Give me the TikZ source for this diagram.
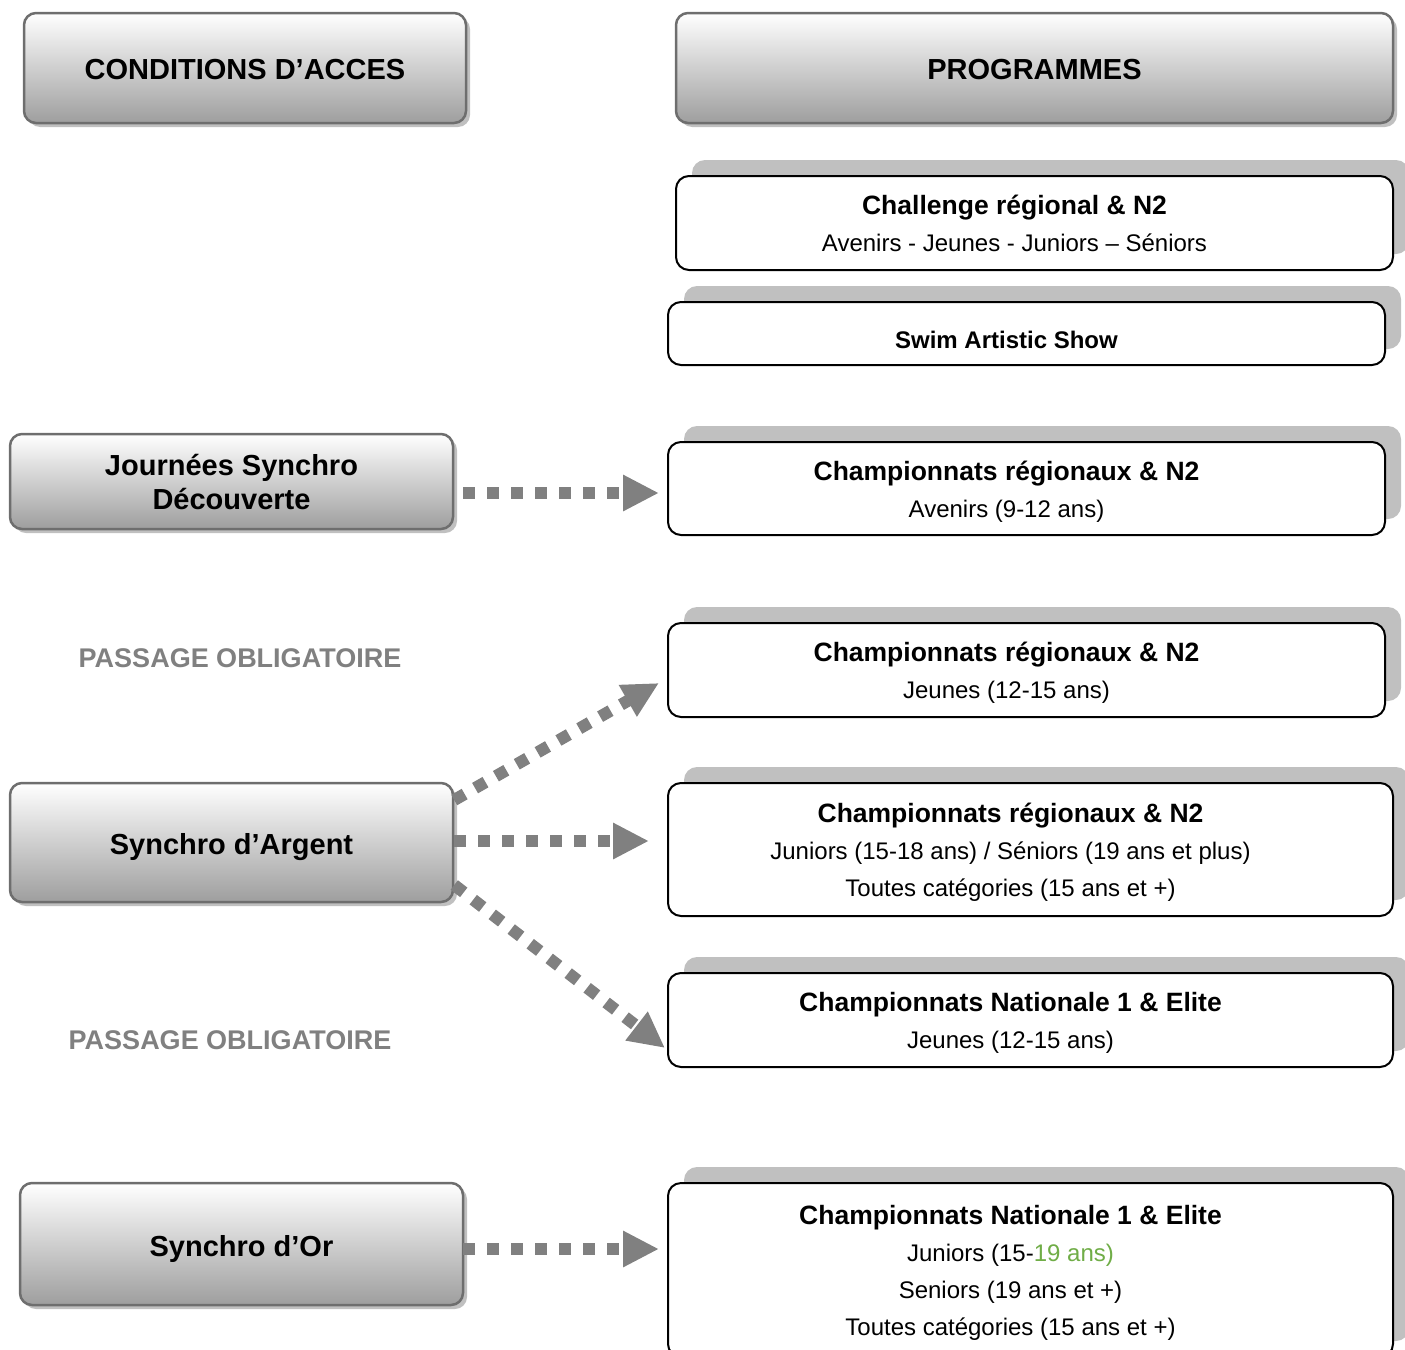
\documentclass[tikz,border=0pt]{standalone}
\usepackage{fontspec}
\setmainfont{Liberation Sans}
\usetikzlibrary{arrows.meta,shadows}
\definecolor{shadowgray}{RGB}{192,192,192}
\definecolor{framegray}{RGB}{110,110,110}
\definecolor{flowgray}{RGB}{128,128,128}
\definecolor{agegreen}{RGB}{112,173,71}
\newcommand\progtitle[1]{{\fontsize{26.5}{37}\selectfont\bfseries #1}}

\begin{document}
\begin{tikzpicture}[x=1pt,y=-1pt,
        acces/.style={draw=framegray,line width=2.5pt,rounded corners=12pt,top color=white,bottom color=black!38,
            general shadow={shadow xshift=4pt,shadow yshift=-4pt,fill=shadowgray},inner sep=0pt},
        accestext/.style={inner sep=0pt,align=center,font=\fontsize{29}{34}\selectfont\bfseries},
        prog/.style={draw=black,line width=2pt,rounded corners=13pt,fill=white,
            copy shadow={shadow xshift=16pt,shadow yshift=16pt,fill=shadowgray,draw=none},inner sep=0pt},
        progtext/.style={inner sep=0pt,align=center,font=\fontsize{24}{37}\selectfont},
        flow/.style={draw=flowgray,line width=12pt,dash pattern=on 12pt off 12pt,
            -{Triangle[length=36pt,width=34pt]}},
        passage/.style={text=flowgray,font=\fontsize{27}{30}\selectfont\bfseries}]
        \useasboundingbox (0,0) rectangle (1405,1349);
        \clip (0,0) rectangle (1405,1349);
        % headers
        \node[acces,minimum width=442pt,minimum height=110pt] (acces) at (245,68) {};
        \node[accestext] (accestext) at ([yshift=-2pt]acces) {CONDITIONS D’ACCES};
        \node[acces,minimum width=717pt,minimum height=110pt] (programmes) at (1034.5,68) {};
        \node[accestext] (programmestext) at ([yshift=-2pt]programmes) {PROGRAMMES};
        % programmes
        \node[prog,minimum width=717pt,minimum height=94pt] (challenge) at (1034.5,223) {};
        \node[progtext] (challengetext) at ([xshift=-20pt]challenge)
            {\progtitle{Challenge régional \& N2}\\Avenirs - Jeunes - Juniors – Séniors};
        \node[prog,minimum width=717pt,minimum height=63pt] (swim) at (1026.5,333.5) {};
        \node[progtext] (swimtext) at ([xshift=-20pt,yshift=-6pt]swim) {\textbf{Swim Artistic Show}};
        \node[prog,minimum width=717pt,minimum height=93pt] (champA) at (1026.5,488.5) {};
        \node[progtext] (champAtext) at ([xshift=-20pt,yshift=-3pt]champA)
            {\progtitle{Championnats régionaux \& N2}\\Avenirs (9-12 ans)};
        \node[prog,minimum width=717pt,minimum height=94pt] (champB) at (1026.5,670) {};
        \node[progtext] (champBtext) at ([xshift=-20pt,yshift=-3pt]champB)
            {\progtitle{Championnats régionaux \& N2}\\Jeunes (12-15 ans)};
        \node[prog,minimum width=725pt,minimum height=133pt] (champC) at (1030.5,849.5) {};
        \node[progtext] (champCtext) at ([xshift=-20pt,yshift=-3pt]champC)
            {\progtitle{Championnats régionaux \& N2}\\Juniors (15-18 ans) / Séniors (19 ans et plus)\\Toutes catégories (15 ans et +)};
        \node[prog,minimum width=725pt,minimum height=94pt] (champD) at (1030.5,1020) {};
        \node[progtext] (champDtext) at ([xshift=-20pt,yshift=-3pt]champD)
            {\progtitle{Championnats Nationale 1 \& Elite}\\Jeunes (12-15 ans)};
        \node[prog,minimum width=725pt,minimum height=174pt] (champE) at (1030.5,1270) {};
        \node[progtext] (champEtext) at ([xshift=-20pt,yshift=-3pt]champE)
            {\progtitle{Championnats Nationale 1 \& Elite}\\Juniors (15-\textcolor{agegreen}{19 ans)}\\Seniors (19 ans et +)\\Toutes catégories (15 ans et +)};
        % conditions
        \node[acces,minimum width=443pt,minimum height=95pt] (decouverte) at (231.5,481.5) {};
        \node[accestext] (decouvertetext) at ([yshift=-1pt]decouverte) {Journées Synchro\\Découverte};
        \node[acces,minimum width=443pt,minimum height=119pt] (argent) at (231.5,842.5) {};
        \node[accestext] (argenttext) at ([yshift=-5pt]argent) {Synchro d’Argent};
        \node[acces,minimum width=443pt,minimum height=122pt] (synor) at (241.5,1244) {};
        \node[accestext] (synortext) at ([yshift=-5pt]synor) {Synchro d’Or};
        \node[passage] (passageA) at (240,658) {PASSAGE OBLIGATOIRE};
        \node[passage] (passageB) at (230,1040) {PASSAGE OBLIGATOIRE};
        % arrows
        \draw[flow] ([xshift=9pt,yshift=-11.5pt]decouverte.east) -- ([xshift=-8pt,yshift=-4.5pt]champA.west);
        \draw[flow] ([yshift=42.5pt]argent.east) -- ([xshift=-8pt,yshift=-13pt]champB.west);
        \draw[flow] ([yshift=1.5pt]argent.east) -- ([xshift=-18pt,yshift=8.5pt]champC.west);
        \draw[flow] ([yshift=-42.5pt]argent.east) -- ([xshift=-2pt,yshift=-28pt]champD.west);
        \draw[flow] ([xshift=-1pt,yshift=-5pt]synor.east) -- ([xshift=-8pt,yshift=21pt]champE.west);
\end{tikzpicture}
\end{document}
